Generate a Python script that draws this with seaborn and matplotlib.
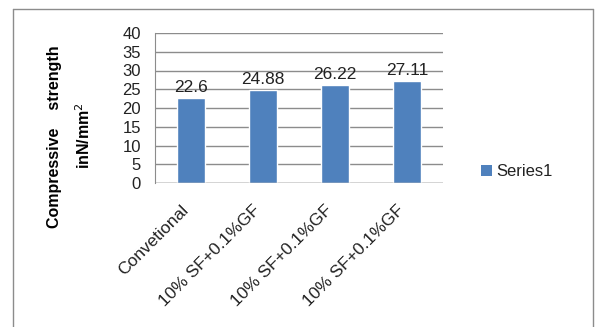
import matplotlib
matplotlib.use("Agg")
import matplotlib.pyplot as plt
import matplotlib.transforms as mtransforms
import seaborn as sns
import pandas as pd
from matplotlib.patches import Rectangle
from matplotlib.lines import Line2D

categories = ["Convetional", "10% SF+0.1%GF", "10% SF+0.1%GF ", "10% SF+0.1%GF  "]
tick_labels = ["Convetional", "10% SF+0.1%GF", "10% SF+0.1%GF", "10% SF+0.1%GF"]
values = [22.6, 24.88, 26.22, 27.11]
value_labels = ["22.6", "24.88", "26.22", "27.11"]
yticks = [0, 5, 10, 15, 20, 25, 30, 35, 40]
series_name = "Series1"

sns.set_style("white")
plt.rcParams["font.family"] = ["Liberation Sans", "DejaVu Sans"]

W, H = 597, 327
fig = plt.figure(figsize=(W / 100, H / 100), dpi=100)
fig.patch.set_facecolor("white")

def fx(x):
    return x / W

def fy(y):
    return 1 - y / H

# outer chart border
fig.add_artist(Line2D([fx(13), fx(13)], [fy(9), fy(330)], color="#8c8c8c", lw=1.0))
fig.add_artist(Line2D([fx(13), fx(593)], [fy(9), fy(9)], color="#8c8c8c", lw=1.0))
fig.add_artist(Line2D([fx(593), fx(593)], [fy(9), fy(330)], color="#8c8c8c", lw=1.0))

ax = fig.add_axes([fx(155), fy(183), fx(443) - fx(155), (183 - 33) / H])
df = pd.DataFrame({"cat": categories, "val": values})
bar_color = "#4F81BD"
sns.barplot(data=df, x="cat", y="val", color=bar_color, width=0.39, ax=ax,
            saturation=1, zorder=3)

ax.set_ylim(0, 40)
ax.set_xlim(-0.5, len(categories) - 0.5)
ax.set_yticks(yticks)
ax.set_yticklabels([str(t) for t in yticks], fontsize=12, color="#222222")
ax.yaxis.grid(True, color="#8c8c8c", lw=1.0, zorder=0)
ax.set_axisbelow(True)
for s in ["top", "right", "bottom"]:
    ax.spines[s].set_visible(False)
ax.spines["left"].set_color("#8c8c8c")
ax.spines["left"].set_zorder(4)
ax.tick_params(axis="y", direction="out", length=8, width=1, color="#8c8c8c", pad=2)
ax.axhline(0, color="#8c8c8c", lw=1.0, zorder=4)

# x tick marks at category boundaries
ax.set_xticks([i - 0.5 for i in range(len(categories) + 1)], minor=True)
ax.tick_params(axis="x", which="minor", direction="out", length=8, width=1, color="#8c8c8c")
ax.set_xticks(range(len(categories)))
ax.set_xticklabels(tick_labels, rotation=45, ha="right", rotation_mode="anchor",
                   fontsize=12.5, color="#222222")
ax.tick_params(axis="x", which="major", length=0, pad=14)
offset = mtransforms.ScaledTranslation(-10 / 100, 0, fig.dpi_scale_trans)
for lab in ax.get_xticklabels():
    lab.set_transform(lab.get_transform() + offset)
ax.set_xlabel("")
ax.set_ylabel("")

for i, (v, lab) in enumerate(zip(values, value_labels)):
    ax.text(i, v + 0.8, lab, ha="center", va="bottom", fontsize=12.5, color="#222222")

fig.text(fx(55), fy(137), "Compressive    strength", rotation=90, ha="center", va="center",
         fontsize=11.5, fontweight="bold", color="black")
fig.text(fx(84), fy(136), "inN/mm$^2$", rotation=90, ha="center", va="center",
         fontsize=11.5, fontweight="bold", color="black")

# legend
fig.add_artist(Rectangle((fx(481), fy(176)), fx(11), 11 / H, facecolor=bar_color,
                         edgecolor="none", transform=fig.transFigure))
fig.text(fx(496), fy(172), series_name, ha="left", va="center", fontsize=12, color="#222222")

fig.savefig("out.png", dpi=100, facecolor="white")
